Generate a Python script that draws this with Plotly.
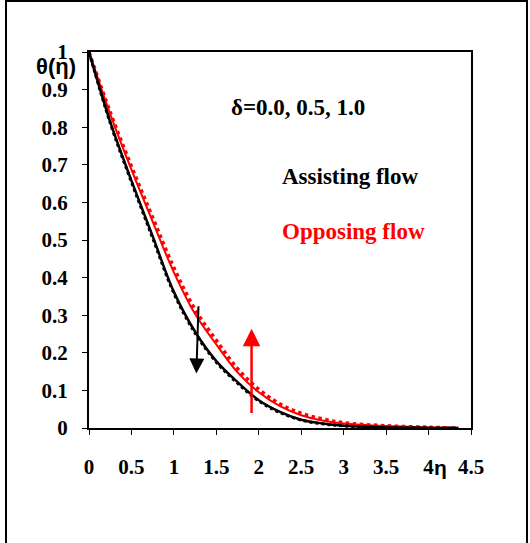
import plotly.graph_objects as go

eta = [0, 0.25, 0.5, 0.75, 1.0, 1.25, 1.5, 1.75, 2.0, 2.25, 2.5, 2.75, 3.0, 3.5, 4.0, 4.35]
assist_d0 = [1.0, 0.814, 0.658, 0.51, 0.362, 0.256, 0.178, 0.122, 0.074, 0.043, 0.022, 0.012, 0.006, 0.0015, 0.0003, 0.0]
assist_d1 = [1.0, 0.811, 0.654, 0.505, 0.358, 0.252, 0.175, 0.119, 0.072, 0.041, 0.021, 0.011, 0.0055, 0.0013, 0.0002, 0.0]
oppose_d0 = [1.0, 0.835, 0.687, 0.549, 0.414, 0.303, 0.222, 0.148, 0.095, 0.058, 0.034, 0.02, 0.012, 0.005, 0.0015, 0.0]
oppose_d1 = [1.0, 0.84, 0.696, 0.560, 0.426, 0.315, 0.233, 0.158, 0.103, 0.064, 0.039, 0.024, 0.014, 0.006, 0.002, 0.0]

x_ticks = [0, 0.5, 1, 1.5, 2, 2.5, 3, 3.5, 4, 4.5]
y_ticks = [0, 0.1, 0.2, 0.3, 0.4, 0.5, 0.6, 0.7, 0.8, 0.9, 1]

fig = go.Figure()
fig.add_trace(go.Scatter(x=eta, y=oppose_d1, mode="lines", line=dict(color="red", width=3.5, dash="dot", shape="spline", smoothing=1.0)))
fig.add_trace(go.Scatter(x=eta, y=oppose_d0, mode="lines", line=dict(color="red", width=2, shape="spline", smoothing=1.0)))
fig.add_trace(go.Scatter(x=eta, y=assist_d1, mode="lines", line=dict(color="black", width=3, dash="dot", shape="spline", smoothing=1.0)))
fig.add_trace(go.Scatter(x=eta, y=assist_d0, mode="lines", line=dict(color="black", width=2.5, shape="spline", smoothing=1.0)))

tickfont = dict(family="Liberation Serif", size=21, color="black")
fig.update_layout(
    width=530, height=543,
    margin=dict(l=89, r=59, t=52, b=115),
    paper_bgcolor="white", plot_bgcolor="white",
    showlegend=False,
    xaxis=dict(range=[0, 4.5], tickvals=x_ticks, ticktext=[f"<b>{v:g}</b>" for v in x_ticks],
               tickfont=tickfont, showgrid=False, zeroline=False,
               showline=True, linecolor="black", linewidth=2, mirror=True,
               ticks="outside", ticklen=5, tickcolor="black", ticklabelstandoff=14),
    yaxis=dict(range=[0, 1], tickvals=y_ticks, ticktext=[f"<b>{v:g}</b>" for v in y_ticks],
               tickfont=tickfont, showgrid=False, zeroline=False,
               showline=True, linecolor="black", linewidth=2, mirror=True,
               ticks="outside", ticklen=5, tickcolor="black", ticklabelstandoff=10),
)

W, L, B, H = 382, 89, 428, 376
def px(x):
    return (x - L) / W
def py(y):
    return (B - y) / H

# outer frame
fig.add_shape(type="rect", xref="paper", yref="paper", x0=px(6), x1=px(527), y0=py(560), y1=py(1),
              line=dict(color="black", width=2), layer="below")

def label(x, y, text, font):
    fig.add_annotation(xref="paper", yref="paper", x=px(x), y=py(y), xanchor="center", yanchor="middle",
                       text=text, showarrow=False, font=font)

ann_font = dict(family="Liberation Serif", size=23, color="black")
label(298, 107, "<b>δ=0.0, 0.5, 1.0</b>", ann_font)
label(350, 176, "<b>Assisting flow</b>", ann_font)
label(353, 231, "<b>Opposing flow</b>", dict(family="Liberation Serif", size=23, color="red"))
label(56, 66, "<b>θ(η)</b>", dict(family="Liberation Sans", size=22, color="black"))
label(440, 467, "<b>η</b>", dict(family="Liberation Sans", size=21, color="black"))

# arrows
fig.add_annotation(x=1.265, y=0.145, ax=1.29, ay=0.328, xref="x", yref="y", axref="x", ayref="y",
                   text="", showarrow=True, arrowhead=2, arrowsize=1.5, arrowwidth=2, arrowcolor="black")
fig.add_annotation(x=1.915, y=0.264, ax=1.915, ay=0.036, xref="x", yref="y", axref="x", ayref="y",
                   text="", showarrow=True, arrowhead=2, arrowsize=1.4, arrowwidth=2.5, arrowcolor="red")

fig.write_html("out.html", config={"displayModeBar": False},
               post_script="document.body.style.margin='0px';")
